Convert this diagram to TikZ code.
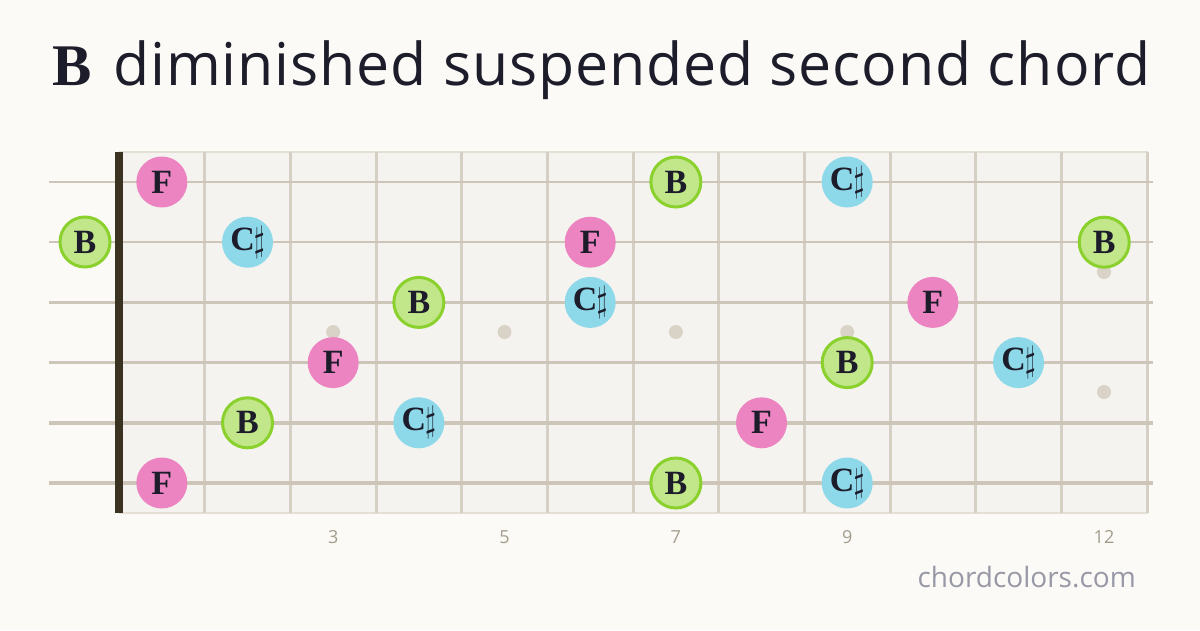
\documentclass[tikz,border=0pt]{standalone}
\usepackage{fontspec}
\newfontfamily\titlefont[LetterSpace=1.5]{Open Sans}
\newfontfamily\markfont{Open Sans}
\newfontfamily\notefont{Liberation Serif}
\definecolor{paper}{HTML}{FBFAF6}
\definecolor{board}{HTML}{F5F3EF}
\definecolor{edge}{HTML}{E4DED5}
\definecolor{wire}{HTML}{CDC5B8}
\definecolor{fretc}{HTML}{D6CFC3}
\definecolor{nutc}{HTML}{3A3322}
\definecolor{dotc}{HTML}{D9D3C7}
\definecolor{ink}{HTML}{1C1C2A}
\definecolor{bfill}{HTML}{C2E68A}
\definecolor{bring}{HTML}{8AD12E}
\definecolor{ffill}{HTML}{EB84C0}
\definecolor{cfill}{HTML}{8DD8E9}
\definecolor{numc}{HTML}{A39D8C}
\definecolor{markc}{HTML}{9898A6}
\newcommand\shp{\hspace{-1pt}\raisebox{-1pt}{\scalebox{1.15}[1.45]{$\sharp$}}}
\tikzset{
  note/.style={circle, minimum size=51pt, inner sep=0pt, text=ink,
    font=\notefont\fontsize{34}{34}\selectfont\bfseries},
  bnote/.style={note, fill=bfill, draw=bring, line width=3pt, minimum size=50pt},
  fnote/.style={note, fill=ffill},
  cnote/.style={note, fill=cfill},
  inlay/.style={circle, fill=dotc, minimum size=14pt, inner sep=0pt},
  fretnum/.style={text=numc, font=\markfont\fontsize{18}{18}\selectfont},
}

\begin{document}
\begin{tikzpicture}[x=1pt, y=-1pt]
    \useasboundingbox[fill=paper] (0, 0) rectangle (1200, 630);
    \node[anchor=base west, inner sep=0pt, text=ink] (title) at (52, 85)
      {\fontsize{59}{59}\selectfont{\notefont\bfseries B}\hspace{4pt} \titlefont diminished suspended second chord};
    % fretboard
    \fill[board] (119, 152) rectangle (1148, 513);
    \draw[edge, line width=1.5pt] (119, 152) -- (1148, 152);
    \draw[edge, line width=1.5pt] (119, 513) -- (1148, 513);
    \foreach \k in {1,...,12}
      \draw[fretc, line width=3pt] ({119+85.67*\k}, 152) -- ({119+85.67*\k}, 513);
    \foreach \s/\w in {1/1.8, 2/2.2, 3/2.6, 4/3, 5/3.4, 6/3.8}
      \draw[wire, line width=\w pt] (49, {182+60.2*(\s-1)}) -- (1153, {182+60.2*(\s-1)});
    \fill[nutc] (115, 152) rectangle (123, 513);
    % inlays and fret numbers
    \foreach \f in {3,5,7,9} {
      \node[inlay] (dot\f) at ({119+85.67*(\f-0.5)}, 332) {};
      \node[fretnum] (num\f) at ({119+85.67*(\f-0.5)}, 537) {\f};
    }
    \node[inlay] (dot12a) at (1104, 272) {};
    \node[inlay] (dot12b) at (1104, 392) {};
    \node[fretnum] (num12) at (1104, 537) {12};
    % chord tones
    \node[bnote] (n20) at (85, 242) {B};
    \foreach \s/\f/\st/\t in {1/1/fnote/F, 1/7/bnote/B, 1/9/cnote/{C\shp},
        2/2/cnote/{C\shp}, 2/6/fnote/F, 2/12/bnote/B,
        3/4/bnote/B, 3/6/cnote/{C\shp}, 3/10/fnote/F,
        4/3/fnote/F, 4/9/bnote/B, 4/11/cnote/{C\shp},
        5/2/bnote/B, 5/4/cnote/{C\shp}, 5/8/fnote/F,
        6/1/fnote/F, 6/7/bnote/B, 6/9/cnote/{C\shp}}
      \node[\st] (n\s\f) at ({119+85.67*(\f-0.5)}, {182+60.2*(\s-1)}) {\t};
    \node[anchor=base east, inner sep=0pt, text=markc,
      font=\markfont\fontsize{28}{28}\selectfont] (site) at (1136, 587) {chordcolors.com};
\end{tikzpicture}
\end{document}
